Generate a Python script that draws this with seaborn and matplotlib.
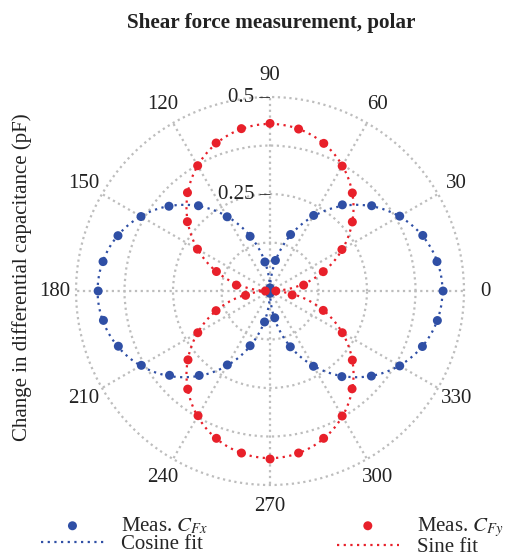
import numpy as np
import seaborn as sns
import matplotlib.pyplot as plt

# measurement angles (deg) and measured capacitance changes (pF)
angles_deg = [0, 10, 20, 30, 40, 50, 60, 70, 80, 90, 100, 110, 120, 130, 140, 150, 160, 170,
              180, 190, 200, 210, 220, 230, 240, 250, 260, 270, 280, 290, 300, 310, 320, 330, 340, 350]
meas_cfx = [0.446, 0.437, 0.419, 0.386, 0.342, 0.290, 0.225, 0.155, 0.080, 0.008, 0.076, 0.150,
            0.221, 0.287, 0.340, 0.384, 0.417, 0.437, 0.443, 0.436, 0.416, 0.383, 0.338, 0.284,
            0.220, 0.150, 0.081, 0.006, 0.070, 0.153, 0.224, 0.288, 0.341, 0.386, 0.418, 0.438]
meas_cfy = [0.015, 0.088, 0.146, 0.214, 0.277, 0.330, 0.372, 0.405, 0.424, 0.432, 0.425, 0.406,
            0.373, 0.331, 0.278, 0.216, 0.147, 0.088, 0.012, 0.064, 0.148, 0.215, 0.276, 0.330,
            0.371, 0.404, 0.424, 0.433, 0.424, 0.404, 0.372, 0.329, 0.277, 0.215, 0.146, 0.058]

theta_labels = ["0", "30", "60", "90", "120", "150", "180", "210", "240", "270", "300", "330"]
r_ticks = [0.125, 0.25, 0.375, 0.5]
r_labels = ["", "0.25", "", "0.5"]

blue = "#2f4fa5"
red = "#e8202a"

sns.set_style("white")
plt.rcParams["font.family"] = ["Liberation Serif", "DejaVu Serif"]
plt.rcParams["mathtext.fontset"] = "stix"

theta = np.deg2rad(angles_deg)

# least-squares amplitude of |cos| and |sin| fits
ac = np.abs(np.cos(theta))
asn = np.abs(np.sin(theta))
A_cos = np.sum(np.array(meas_cfx) * ac) / np.sum(ac ** 2)
A_sin = np.sum(np.array(meas_cfy) * asn) / np.sum(asn ** 2)
tfit = np.linspace(0, 2 * np.pi, 721)
cos_fit = A_cos * np.abs(np.cos(tfit))
sin_fit = A_sin * np.abs(np.sin(tfit))

fig = plt.figure(figsize=(5.15, 5.58), dpi=100)
ax = fig.add_axes([0.1476, 0.1308, 0.7534, 0.6953], projection="polar")

dots = (0, (1, 2))
sns.lineplot(x=tfit, y=cos_fit, ax=ax, sort=False, color=blue, lw=1.6, linestyle=dots,
             label="Cosine fit")
sns.lineplot(x=tfit, y=sin_fit, ax=ax, sort=False, color=red, lw=1.6, linestyle=dots,
             label="Sine fit")
sns.scatterplot(x=theta, y=meas_cfx, ax=ax, color=blue, s=42, edgecolor="none",
                label=r"Meas. $C_{Fx}$", zorder=3)
sns.scatterplot(x=theta, y=meas_cfy, ax=ax, color=red, s=42, edgecolor="none",
                label=r"Meas. $C_{Fy}$", zorder=3)

ax.set_ylim(0, 0.5)
ax.set_yticks(r_ticks)
ax.set_yticklabels([])
for rv, lab in zip(r_ticks, r_labels):
    if lab:
        ax.text(np.pi / 2, rv, lab + " \u2013", ha="right", va="center", fontsize=15,
                color="#222222")
ax.set_thetagrids(np.arange(0, 360, 30), theta_labels, fontsize=15)
ax.tick_params(axis="x", pad=5, colors="#222222")
ax.grid(True, color="#bdbdbd", linestyle=(0, (1, 1.6)), lw=1.6)
for gl in ax.yaxis.get_gridlines():
    gl.set_clip_on(False)
ax.spines["polar"].set_visible(False)
ax.set_xlabel("")
ax.set_ylabel("")

handles, labels = ax.get_legend_handles_labels()
ax.get_legend().remove()
hmap = dict(zip(labels, handles))
order = [r"Meas. $C_{Fx}$", "Cosine fit", r"Meas. $C_{Fy}$", "Sine fit"]
fig.legend([hmap[k] for k in order], order, loc="upper left", ncol=2,
           bbox_to_anchor=(0.08, 0.077), frameon=False, fontsize=15, borderpad=0,
           borderaxespad=0, handlelength=3, handletextpad=0.85, columnspacing=6.15,
           labelspacing=-0.08)

fig.text(0.526, 0.958, "Shear force measurement, polar", ha="center", va="center",
         fontsize=15.2, fontweight="bold", color="#222222")
fig.text(0.043, 0.503, "Change in differential capacitance (pF)", rotation=90,
         ha="center", va="center", fontsize=15, color="#222222")

fig.savefig("out.png", dpi=100)
